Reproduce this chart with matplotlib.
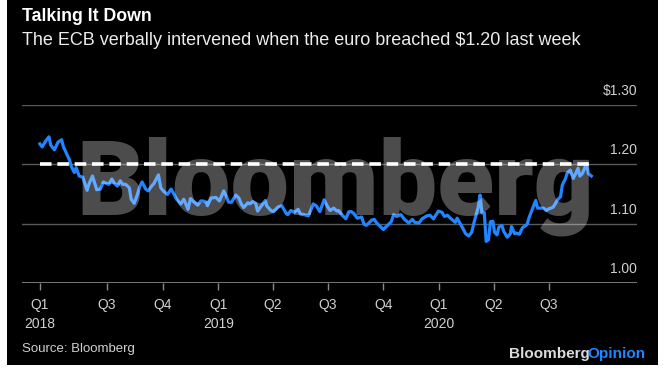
import matplotlib
matplotlib.use("Agg")
import matplotlib.pyplot as plt
import matplotlib.dates as mdates
from matplotlib.patches import Rectangle
import datetime as dt

# ---------------- data ----------------
dates_str = [
    "2018-03-12","2018-03-16","2018-03-21","2018-03-27","2018-03-30","2018-04-05","2018-04-11",
    "2018-04-17","2018-04-20","2018-04-25","2018-04-30","2018-05-03","2018-05-08","2018-05-11",
    "2018-05-16","2018-05-22","2018-05-29","2018-06-01","2018-06-07","2018-06-14","2018-06-20",
    "2018-06-25","2018-06-29","2018-07-04","2018-07-09","2018-07-13","2018-07-18","2018-07-23",
    "2018-07-27","2018-08-01","2018-08-07","2018-08-10","2018-08-15","2018-08-20","2018-08-24",
    "2018-08-28","2018-09-03","2018-09-07","2018-09-12","2018-09-17","2018-09-21","2018-09-24",
    "2018-09-28","2018-10-03","2018-10-09","2018-10-15","2018-10-19","2018-10-24","2018-10-31",
    "2018-11-05","2018-11-12","2018-11-16","2018-11-20","2018-11-28","2018-12-03","2018-12-07",
    "2018-12-12","2018-12-14","2018-12-20","2018-12-28",
    "2019-01-03","2019-01-10","2019-01-14","2019-01-18","2019-01-23","2019-01-30","2019-02-04",
    "2019-02-08","2019-02-12","2019-02-19","2019-02-22","2019-02-27","2019-03-04","2019-03-07",
    "2019-03-12","2019-03-20","2019-03-22","2019-03-29","2019-04-02","2019-04-10","2019-04-16",
    "2019-04-24","2019-04-26","2019-05-01","2019-05-07","2019-05-13","2019-05-17","2019-05-23",
    "2019-05-30","2019-06-04","2019-06-07","2019-06-12","2019-06-18","2019-06-25","2019-07-01",
    "2019-07-05","2019-07-11","2019-07-16","2019-07-19","2019-07-25","2019-07-31","2019-08-05",
    "2019-08-09","2019-08-13","2019-08-19","2019-08-26","2019-08-30","2019-09-03","2019-09-12",
    "2019-09-16","2019-09-20","2019-09-27","2019-10-01","2019-10-08","2019-10-14","2019-10-18",
    "2019-10-23","2019-10-30","2019-11-05","2019-11-12","2019-11-18","2019-11-22","2019-11-29",
    "2019-12-04","2019-12-12","2019-12-17","2019-12-23","2019-12-31",
    "2020-01-06","2020-01-10","2020-01-15","2020-01-21","2020-01-28","2020-01-31","2020-02-05",
    "2020-02-10","2020-02-14","2020-02-19","2020-02-24","2020-02-28","2020-03-03","2020-03-06",
    "2020-03-09","2020-03-12","2020-03-16","2020-03-19","2020-03-23","2020-03-26","2020-03-30",
    "2020-04-02","2020-04-06","2020-04-09","2020-04-14","2020-04-17","2020-04-23","2020-04-28",
    "2020-04-30","2020-05-05","2020-05-08","2020-05-13","2020-05-18","2020-05-21","2020-05-26",
    "2020-05-29","2020-06-03","2020-06-09","2020-06-12","2020-06-17","2020-06-22","2020-06-26",
    "2020-07-01","2020-07-07","2020-07-10","2020-07-15","2020-07-20","2020-07-23","2020-07-28",
    "2020-07-31","2020-08-05","2020-08-10","2020-08-14","2020-08-18","2020-08-21","2020-08-25",
    "2020-08-28","2020-09-01","2020-09-04","2020-09-09",
]
eurusd = [
    1.234,1.229,1.238,1.246,1.232,1.224,1.237,
    1.241,1.229,1.218,1.207,1.196,1.186,1.194,
    1.180,1.178,1.156,1.166,1.180,1.157,1.158,
    1.170,1.168,1.166,1.175,1.168,1.163,1.172,
    1.166,1.166,1.160,1.141,1.134,1.148,1.162,
    1.170,1.158,1.155,1.162,1.168,1.176,1.182,
    1.160,1.154,1.149,1.158,1.151,1.141,1.133,
    1.141,1.124,1.142,1.138,1.131,1.138,1.138,
    1.136,1.130,1.143,1.144,
    1.138,1.155,1.147,1.136,1.136,1.148,1.143,
    1.133,1.127,1.135,1.133,1.137,1.134,1.121,
    1.128,1.139,1.130,1.122,1.120,1.128,1.130,
    1.116,1.115,1.122,1.119,1.124,1.116,1.115,
    1.113,1.125,1.133,1.130,1.120,1.140,1.128,
    1.122,1.126,1.121,1.122,1.114,1.108,1.120,
    1.120,1.117,1.109,1.111,1.099,1.097,1.106,
    1.107,1.101,1.094,1.090,1.097,1.103,1.115,
    1.112,1.115,1.107,1.101,1.107,1.102,1.101,
    1.108,1.113,1.114,1.108,1.121,
    1.119,1.112,1.114,1.108,1.102,1.109,1.100,
    1.091,1.083,1.079,1.085,1.102,1.117,1.128,
    1.148,1.118,1.118,1.070,1.073,1.103,1.104,
    1.085,1.081,1.094,1.097,1.087,1.077,1.083,
    1.095,1.083,1.084,1.082,1.093,1.095,1.099,
    1.110,1.123,1.139,1.126,1.126,1.126,1.122,
    1.125,1.127,1.131,1.140,1.145,1.165,1.175,
    1.185,1.190,1.176,1.184,1.193,1.180,1.184,
    1.191,1.201,1.184,1.180,
]
ref_level = 1.20
y_ticks = [1.00, 1.10, 1.20, 1.30]
y_labels = ["1.00", "1.10", "1.20", "$1.30"]
x_tick_dates = ["2018-03-12","2018-07-01","2018-10-01","2019-01-01","2019-04-01",
                "2019-07-01","2019-10-01","2020-01-01","2020-04-01","2020-07-01"]
x_tick_labels = ["Q1\n2018","Q3","Q4","Q1\n2019","Q2","Q3","Q4","Q1\n2020","Q2","Q3"]

title = "Talking It Down"
subtitle = "The ECB verbally intervened when the euro breached $1.20 last week"
source = "Source: Bloomberg"

# ---------------- figure ----------------
W, H = 667, 375
fig = plt.figure(figsize=(W/100, H/100), dpi=100)
fig.patch.set_facecolor("white")
fig.patches.append(Rectangle((7/W, (H-365)/H), (658-7)/W, 365/H,
                             transform=fig.transFigure, facecolor="black",
                             edgecolor="none", zorder=-10))

plt.rcParams['font.family'] = ['Liberation Sans', 'DejaVu Sans']

dates = [dt.datetime.strptime(s, "%Y-%m-%d") for s in dates_str]
tick_dates = [dt.datetime.strptime(s, "%Y-%m-%d") for s in x_tick_dates]

ax_left, ax_right = 22, 637
y100, y130 = 283, 104.7
ax = fig.add_axes([ax_left/W, 1-y100/H, (ax_right-ax_left)/W, (y100-y130)/H])
ax.set_facecolor("none")

x0 = mdates.date2num(dt.datetime(2018, 7, 1))
ppd = 0.6047
ax.set_xlim(x0 - (107-ax_left)/ppd, x0 + (ax_right-107)/ppd)
ax.set_ylim(1.00, 1.30)

for yv in y_ticks:
    ax.axhline(yv, color="#5a5a5a", lw=1.0, zorder=1)
ax.axhline(1.00, color="#8a8a8a", lw=1.2, zorder=2)

ax.plot(dates, eurusd, color="#2185ff", lw=2.3, zorder=3, solid_joinstyle="round")
ax.plot([dates[0], dates[-1]], [ref_level, ref_level], color="white", lw=2.6,
        dashes=(3.2, 1.6), zorder=4)

for sp in ax.spines.values():
    sp.set_visible(False)
ax.set_yticks([])
ax.set_xticks(tick_dates)
ax.set_xticklabels(x_tick_labels, color="#d0d0d0", fontsize=10, linespacing=1.4)
ax.tick_params(axis="x", length=5, width=1, color="#8a8a8a", pad=6)

for yv, lab in zip(y_ticks, y_labels):
    ax.annotate(lab, xy=(1, yv), xycoords=("axes fraction", "data"),
                xytext=(0, 5), textcoords="offset points",
                ha="right", va="bottom", color="#d0d0d0", fontsize=10)

# watermark
wm = fig.text(76/W, 1-215/H, "Bloomberg", fontsize=80,
              fontfamily="Roboto", fontweight="black", color="white", alpha=0.3,
              ha="left", va="baseline", zorder=10)

fig.text(22/W, 1-21/H, title, fontsize=12.8, fontweight="bold", color="white",
         ha="left", va="baseline")
fig.text(22/W, 1-45/H, subtitle, fontsize=13, color="#ececec",
         ha="left", va="baseline")
fig.text(22/W, 1-352/H, source, fontsize=9.5, color="#d0d0d0",
         ha="left", va="baseline")
t1 = fig.text(0, 0, "Bloomberg", fontsize=11, fontweight="bold", color="#dcdcdc",
              ha="left", va="baseline")
t2 = fig.text(0, 0, "Opinion", fontsize=11, fontweight="bold", color="#2185ff",
              ha="left", va="baseline")
fig.canvas.draw()
r = fig.canvas.get_renderer()
# fit watermark width
ww = wm.get_window_extent(r).width
wm.set_fontsize(80 * 518 / ww)
w1 = t1.get_window_extent(r).width
w2 = t2.get_window_extent(r).width
xr = 646
t2.set_position(((xr - w2)/W, 1-358/H))
t1.set_position(((xr - w2 - w1 + 2)/W, 1-358/H))

fig.savefig("out.png", dpi=100, facecolor=fig.get_facecolor())
